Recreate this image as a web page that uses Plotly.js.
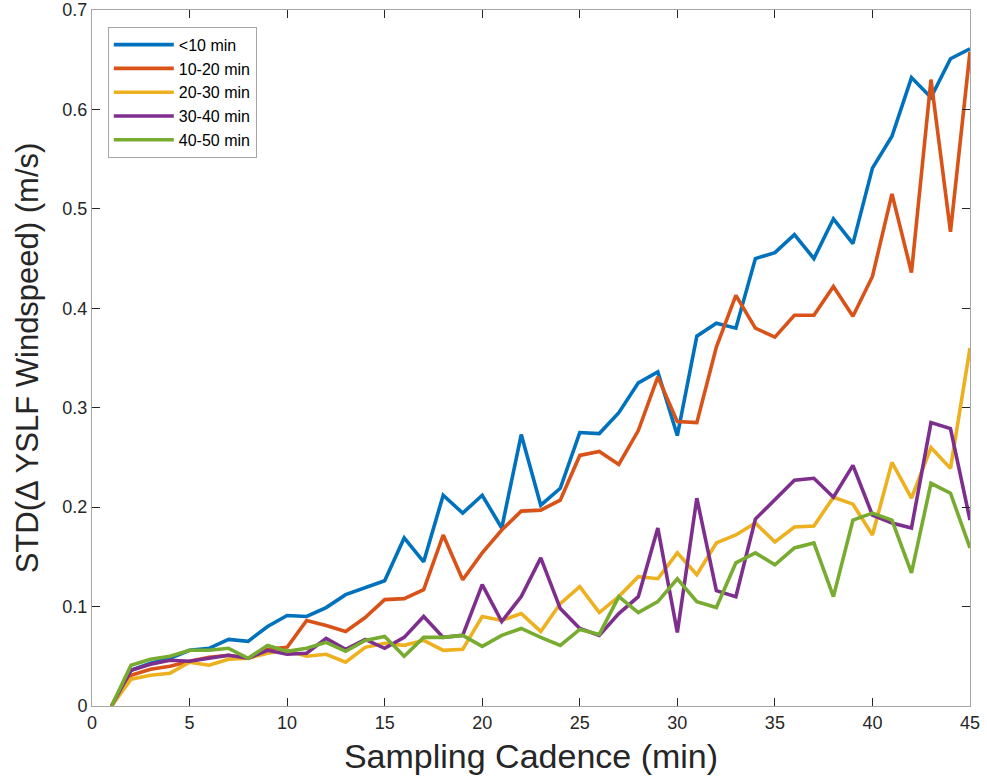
<!DOCTYPE html>
<html>
<head>
<meta charset="utf-8">
<script src="https://cdn.plot.ly/plotly-3.0.1.min.js"></script>
<style>
  html, body { margin: 0; padding: 0; background: #ffffff; }
  #chart { width: 987px; height: 784px; }
</style>
</head>
<body>
<div id="chart"></div>
<script>
// Sampling cadence in minutes
const cadence = [1,2,3,4,5,6,7,8,9,10,11,12,13,14,15,16,17,18,19,20,21,22,23,24,25,26,27,28,29,30,31,32,33,34,35,36,37,38,39,40,41,42,43,44,45];

// STD of YSLF windspeed difference (m/s), one series per gap-length group
const lt10 = [0,0.036,0.043,0.048,0.056,0.058,0.067,0.065,0.080,0.091,0.090,0.099,0.112,0.119,0.126,0.169,0.145,0.212,0.194,0.212,0.179,0.273,0.202,0.219,0.275,0.274,0.295,0.325,0.336,0.272,0.372,0.385,0.380,0.450,0.456,0.474,0.450,0.490,0.465,0.541,0.573,0.632,0.612,0.651,0.661];
const m10to20 = [0,0.031,0.037,0.040,0.045,0.049,0.051,0.048,0.057,0.059,0.086,0.081,0.075,0.089,0.107,0.108,0.117,0.172,0.127,0.154,0.177,0.196,0.197,0.207,0.252,0.256,0.243,0.277,0.331,0.286,0.285,0.361,0.413,0.380,0.371,0.393,0.393,0.422,0.392,0.432,0.515,0.436,0.630,0.477,0.658];
const m20to30 = [0,0.027,0.031,0.033,0.044,0.041,0.047,0.048,0.053,0.056,0.050,0.052,0.044,0.059,0.063,0.061,0.066,0.056,0.057,0.090,0.086,0.093,0.075,0.103,0.120,0.094,0.110,0.130,0.128,0.154,0.132,0.164,0.172,0.184,0.165,0.180,0.181,0.210,0.203,0.172,0.245,0.209,0.260,0.239,0.360];
const m30to40 = [0,0.036,0.042,0.046,0.045,0.048,0.051,0.048,0.056,0.052,0.053,0.068,0.057,0.067,0.058,0.069,0.090,0.069,0.071,0.122,0.085,0.110,0.149,0.098,0.078,0.071,0.093,0.110,0.179,0.074,0.209,0.116,0.110,0.188,0.207,0.227,0.229,0.210,0.242,0.192,0.184,0.179,0.285,0.279,0.187];
const m40to50 = [0,0.041,0.047,0.050,0.056,0.056,0.058,0.048,0.061,0.055,0.058,0.064,0.055,0.066,0.070,0.050,0.069,0.069,0.071,0.060,0.071,0.078,0.069,0.061,0.077,0.072,0.110,0.094,0.105,0.128,0.105,0.099,0.144,0.154,0.142,0.159,0.164,0.110,0.187,0.194,0.187,0.134,0.224,0.214,0.159];

const seriesNames = ['<10 min', '10-20 min', '20-30 min', '30-40 min', '40-50 min'];
const seriesValues = [lt10, m10to20, m20to30, m30to40, m40to50];
const seriesColors = ['#0072BD', '#D95319', '#EDB120', '#7E2F8E', '#77AC30'];

const traces = seriesValues.map((vals, i) => ({
  x: cadence,
  y: vals,
  type: 'scatter',
  mode: 'lines',
  name: seriesNames[i],
  line: { color: seriesColors[i], width: 3.6 }
}));

const font = 'Helvetica, Arial, "Liberation Sans", sans-serif';
const axisCommon = {
  showline: true,
  linecolor: '#a6a6a6',
  linewidth: 1,
  mirror: 'ticks',
  ticks: 'inside',
  ticklen: 8,
  tickwidth: 1,
  tickcolor: '#262626',
  showgrid: false,
  zeroline: false,
  tickfont: { family: font, size: 18, color: '#262626' }
};

const layout = {
  width: 987,
  height: 784,
  margin: { l: 92, r: 17, t: 10, b: 78 },
  paper_bgcolor: '#ffffff',
  plot_bgcolor: '#ffffff',
  showlegend: true,
  xaxis: Object.assign({}, axisCommon, {
    range: [0, 45],
    tick0: 0,
    dtick: 5,
    title: { text: 'Sampling Cadence (min)', font: { family: font, size: 34, color: '#262626' }, standoff: 12 }
  }),
  yaxis: Object.assign({}, axisCommon, {
    range: [0, 0.7],
    tick0: 0,
    dtick: 0.1,
    title: { text: 'STD(\u0394 YSLF Windspeed) (m/s)', font: { family: font, size: 31, color: '#262626' }, standoff: 14 }
  }),
  legend: {
    x: 0.018,
    y: 0.976,
    xanchor: 'left',
    yanchor: 'top',
    bgcolor: '#ffffff',
    bordercolor: '#a6a6a6',
    borderwidth: 1,
    font: { family: font, size: 16, color: '#000000' },
    tracegroupgap: 0,
    itemwidth: 60
  }
};

Plotly.newPlot('chart', traces, layout, { displayModeBar: false, staticPlot: true });
</script>
</body>
</html>
